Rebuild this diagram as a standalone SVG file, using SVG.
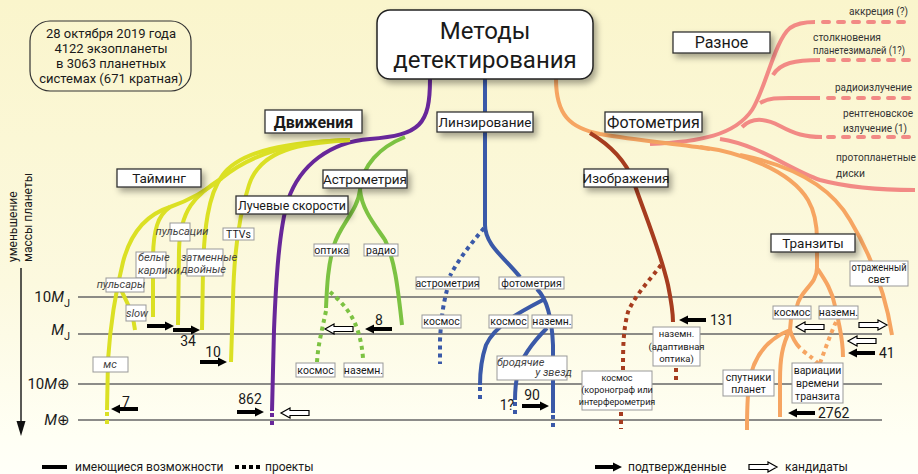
<svg xmlns="http://www.w3.org/2000/svg" xmlns:xlink="http://www.w3.org/1999/xlink" width="918" height="474" viewBox="0 0 918 474">
<defs>
<linearGradient id="bg" x1="0" y1="0" x2="0" y2="1">
<stop offset="0" stop-color="#faf5cc"/>
<stop offset="0.6" stop-color="#fcf9df"/>
<stop offset="0.92" stop-color="#fffff4"/>
<stop offset="1" stop-color="#fffff8"/>
</linearGradient>
<filter id="sh" x="-20%" y="-30%" width="150%" height="190%">
<feDropShadow dx="3" dy="4" stdDeviation="3" flood-color="#000" flood-opacity="0.35"/>
</filter>
<path id="fa" d="M0,-2 H18 V-4.5 L27,0 L18,4.5 V2 H0 Z" fill="#000"/>
<path id="ha" d="M0,-2.5 H19 V-5 L28,0 L19,5 V2.5 H0 Z" fill="#fff" stroke="#000" stroke-width="1.2"/>
</defs>
<style>
text{font-family:Roboto,"Liberation Sans",sans-serif;fill:#1a1a1a}
.c{fill:none;stroke-width:4;stroke-linecap:butt}
.dot{stroke-dasharray:4 4}
.dash{stroke-dasharray:6 9;stroke-linecap:round}
.y{stroke:#dbe024}.p{stroke:#68279a}.g{stroke:#7cc242}.b{stroke:#3a59a8}
.br{stroke:#a63c1f}.o{stroke:#f6a562}.pk{stroke:#f28a85}
.grid{stroke:#666;stroke-width:1.5}
.cat{fill:#fff;stroke:#333;stroke-width:1.3;filter:url(#sh)}
.lb{fill:#fff;stroke:#999;stroke-width:1}
.ct{font-size:13.5px;text-anchor:middle}
.st{font-size:10.5px;text-anchor:middle}
.it{font-size:11px;font-style:italic;fill:#444}
.num{font-size:14px}
.pt{font-size:10.5px;fill:#333}
</style>
<rect width="918" height="474" fill="url(#bg)"/>

<g id="axis">
<line class="grid" x1="78" y1="297" x2="882" y2="297"/>
<line class="grid" x1="78" y1="334" x2="882" y2="334"/>
<line class="grid" x1="78" y1="384" x2="882" y2="384"/>
<line class="grid" x1="78" y1="420" x2="882" y2="420"/>
<line x1="21" y1="268" x2="21" y2="424" stroke="#222" stroke-width="1.5"/>
<polygon points="16.5,421 25.5,421 21,436" fill="#111"/>
<text transform="translate(17,262) rotate(-90)" font-size="12">уменьшение</text>
<text transform="translate(32,262) rotate(-90)" font-size="12">массы планеты</text>
<text x="70" y="302" font-size="15" text-anchor="end">10<tspan font-style="italic">M</tspan><tspan font-size="11" dy="5">J</tspan></text>
<text x="70" y="335" font-size="15" text-anchor="end"><tspan font-style="italic">M</tspan><tspan font-size="11" dy="5">J</tspan></text>
<text x="70" y="389" font-size="15" text-anchor="end">10<tspan font-style="italic">M</tspan>⊕</text>
<text x="70" y="425" font-size="15" text-anchor="end"><tspan font-style="italic">M</tspan>⊕</text>
</g>

<g id="connectors">
<path class="c p" d="M430,79 C430,125 420,135 370,139 C330,142 300,165 288,200 C279,230 276,280 274,330 L272,411"/>
<path class="c p dot" d="M272,413 L272,426"/>
<path class="c y" d="M350,140 C300,143 260,150 249,185 C240,212 234,250 233,300 L231,362"/>
<path class="c y" d="M350,140 C290,142 240,150 222,176 C208,195 204,230 203,270 L202,330"/>
<path class="c y" d="M350,140 C290,141 250,155 222,178 C205,192 190,200 170,207 C145,215 130,235 123,262 C116,290 110,330 108,360 L107,410"/>
<path class="c y dot" d="M107,412 L107,426"/>
<path class="c y" d="M222,178 C195,195 180,210 179,250 L178,325"/>
<path class="c y" d="M170,207 C158,215 153,230 153,260 L153,317"/>
<path class="c y" d="M119,285 C125,300 133,310 135,330"/>
<path class="c g" d="M405,137 C380,147 362,165 360,190 C358,210 340,225 334,245 C328,265 327,285 326,308"/>
<path class="c g dot" d="M326,311 C322,330 318,345 317,362"/>
<path class="c g dot" d="M330,292 C345,305 360,320 363,358"/>
<path class="c g" d="M360,190 C362,210 375,225 385,240 C395,260 398,290 402,325"/>
<path class="c b" d="M485,79 L485,225 C485,245 505,258 520,277"/>
<path class="c b dot" d="M484,228 C470,245 458,260 450,276"/>
<path class="c b dot" d="M447,290 C443,305 441,320 440,340 L440,364"/>
<path class="c b" d="M537,289 C548,300 552,320 553,345 L553,413"/>
<path class="c b dot" d="M553,415 L553,428"/>
<path class="c b" d="M543,300 C520,312 495,325 486,345 C481,360 480,375 480,385"/>
<path class="c b dot" d="M480,387 L480,401"/>
<path class="c b" d="M547,328 C535,340 522,355 518,372 C515,385 515,395 515,400"/>
<path class="c b dot" d="M515,402 L515,416"/>
<path class="c pk" d="M650,144 C700,142 735,135 752,110 C765,90 775,40 790,28 C797,23 805,22 815,22"/>
<path class="c pk dash" d="M823,22 L910,22"/>
<path class="c pk" d="M773,75 C780,63 795,60 820,60"/>
<path class="c pk dash" d="M828,60 L910,60"/>
<path class="c pk" d="M760,103 C770,97 780,98 800,98 L820,98"/>
<path class="c pk dash" d="M828,98 L910,98"/>
<path class="c pk" d="M742,127 C752,117 765,118 780,126 C795,134 805,137 822,137"/>
<path class="c pk dash" d="M828,137 L910,137"/>
<path class="c pk" d="M720,139 C760,145 790,170 820,180 C850,188 880,190 915,190"/>
<path class="c o" d="M556,79 C556,115 570,128 600,134 C640,141 680,144 710,149"/>
<path class="c o" d="M700,147 C740,152 790,170 808,200 C815,212 817,225 817,240"/>
<path class="c o" d="M740,155 C790,165 830,185 850,220 C868,250 885,290 892,335"/>
<path class="c o" d="M817,250 L817,268 C817,285 800,290 797,306"/>
<path class="c o" d="M817,268 C825,280 832,290 835,306"/>
<path class="c o" d="M791,319 L790,330 C765,340 752,360 749,385 C747,400 747,415 747,430"/>
<path class="c o" d="M790,330 C782,345 780,360 780,380 L780,417"/>
<path class="c o" d="M790,330 C793,340 797,345 800,348"/>
<path class="c o dot" d="M803,351 C810,356 815,360 818,364"/>
<path class="c o" d="M838,319 C840,330 843,340 843,357"/>
<path class="c o dot" d="M836,322 C830,335 825,350 820,363"/>
<path class="c br" d="M590,133 C610,145 625,160 633,180 C645,215 660,250 668,285 C672,305 673,315 673,322"/>
<path class="c br dot" d="M661,265 C650,280 635,295 628,312 C623,330 623,350 623,370"/>
<path class="c br dot" d="M621,412 L621,429"/>
<path class="c br dot" d="M676,368 L676,382"/>
</g>

<g id="arrows">
<use xlink:href="#fa" transform="translate(147,326)"/>
<use xlink:href="#fa" transform="translate(173,330)"/>
<use xlink:href="#fa" transform="translate(200,362)"/>
<use xlink:href="#fa" transform="translate(138,409) scale(-1,1)"/>
<use xlink:href="#fa" transform="translate(237,412)"/>
<use xlink:href="#ha" transform="translate(309,413) scale(-1,1)"/>
<use xlink:href="#fa" transform="translate(392,329) scale(-1,1)"/>
<use xlink:href="#ha" transform="translate(353,329) scale(-1,1)"/>
<use xlink:href="#fa" transform="translate(522,406)"/>
<use xlink:href="#fa" transform="translate(706,320) scale(-1,1)"/>
<use xlink:href="#ha" transform="translate(824,327) scale(-1,1)"/>
<use xlink:href="#ha" transform="translate(859,325)"/>
<use xlink:href="#ha" transform="translate(876,341) scale(-1,1)"/>
<use xlink:href="#fa" transform="translate(875,353) scale(-1,1)"/>
<use xlink:href="#fa" transform="translate(815,413) scale(-1,1)"/>
<text class="num" x="188" y="346" text-anchor="middle">34</text>
<text class="num" x="213" y="357" text-anchor="middle">10</text>
<text class="num" x="126" y="407" text-anchor="middle">7</text>
<text class="num" x="250" y="404" text-anchor="middle">862</text>
<text class="num" x="379" y="325" text-anchor="middle">8</text>
<text class="num" x="532" y="400" text-anchor="middle">90</text>
<text class="num" x="507" y="410" text-anchor="middle">1?</text>
<text class="num" x="710" y="325">131</text>
<text class="num" x="879" y="358">41</text>
<text class="num" x="818" y="418">2762</text>
</g>

<g id="info">
<rect x="30" y="21" width="161" height="70" rx="20" fill="none" stroke="#333" stroke-width="1.2"/>
<text x="111" y="38" font-size="13" text-anchor="middle">28 октября 2019 года</text>
<text x="111" y="53" font-size="13" text-anchor="middle">4122 экзопланеты</text>
<text x="111" y="68" font-size="13" text-anchor="middle">в 3063 планетных</text>
<text x="111" y="83" font-size="13" text-anchor="middle">системах (671 кратная)</text>
</g>

<g id="title">
<rect x="377" y="10" width="216" height="69" rx="13" fill="#fff" stroke="#222" stroke-width="1.5" filter="url(#sh)"/>
<text x="485" y="39" font-size="24" text-anchor="middle">Методы</text>
<text x="485" y="68" font-size="24" text-anchor="middle">детектирования</text>
</g>

<g id="n-motion"><rect class="cat" x="265" y="110" width="97" height="23"/><text x="313.5" y="128" font-size="16" font-weight="bold" text-anchor="middle">Движения</text></g>
<g id="n-lensing"><rect class="cat" x="437" y="112" width="96" height="20"/><text class="ct" x="485" y="127">Линзирование</text></g>
<g id="n-photometry"><rect class="cat" x="605" y="112" width="97" height="20"/><text x="653.5" y="128" font-size="16" text-anchor="middle">Фотометрия</text></g>
<g id="n-misc"><rect class="cat" x="673" y="32" width="97" height="21"/><text x="721.5" y="48" font-size="16" text-anchor="middle">Разное</text></g>
<g id="n-timing"><rect class="cat" x="117" y="169" width="84" height="18"/><text class="ct" x="159" y="183">Тайминг</text></g>
<g id="n-rv"><rect class="cat" x="236" y="196" width="112" height="18"/><text class="ct" x="292" y="210" textLength="108" lengthAdjust="spacingAndGlyphs">Лучевые скорости</text></g>
<g id="n-astrometry"><rect class="cat" x="323" y="170" width="84" height="18"/><text class="ct" x="365" y="184">Астрометрия</text></g>
<g id="n-imaging"><rect class="cat" x="584" y="169" width="84" height="18"/><text class="ct" x="626" y="183">Изображения</text></g>
<g id="n-transits"><rect class="cat" x="771" y="234" width="84" height="18"/><text class="ct" x="813" y="248">Транзиты</text></g>

<g id="n-pulsations"><rect class="lb" x="170" y="223" width="20" height="18" stroke="#ccc"/><text class="it" x="182" y="235" text-anchor="middle">пульсации</text></g>
<g id="n-wd"><rect class="lb" x="136" y="252" width="30" height="26" stroke="#ccc"/><text class="it" x="138" y="261">белые</text><text class="it" x="138" y="274">карлики</text></g>
<g id="n-eb"><rect class="lb" x="187" y="249" width="36" height="27" stroke="#ccc"/><text class="it" x="181" y="261">затменные</text><text class="it" x="181" y="273">двойные</text></g>
<g id="n-pulsars"><rect class="lb" x="106" y="278" width="38" height="14" stroke="#ccc"/><text class="it" x="121" y="288" text-anchor="middle">пульсары</text></g>
<g id="n-slow"><rect class="lb" x="126" y="305" width="20" height="16" stroke="#ccc"/><text class="it" x="137" y="317" text-anchor="middle">slow</text></g>
<g id="n-ms"><rect class="lb" x="93" y="357" width="35" height="15" stroke="#ccc"/><text class="it" x="110" y="368" text-anchor="middle">мс</text></g>
<g id="n-ttvs"><rect class="lb" x="223" y="228" width="31" height="12"/><text class="st" x="238.5" y="238">TTVs</text></g>
<g id="n-optics"><rect class="lb" x="314" y="244" width="35" height="12"/><text class="st" x="331.5" y="254">оптика</text></g>
<g id="n-radio"><rect class="lb" x="364" y="244" width="34" height="12"/><text class="st" x="381" y="254">радио</text></g>
<g id="n-ast-space"><rect class="lb" x="296" y="363" width="39" height="14"/><text class="st" x="315.5" y="374">космос</text></g>
<g id="n-ast-ground"><rect class="lb" x="344" y="363" width="39" height="14"/><text class="st" x="363.5" y="374">наземн.</text></g>
<g id="n-lens-ast"><rect class="lb" x="416" y="277" width="63" height="12"/><text class="st" x="447.5" y="287">астрометрия</text></g>
<g id="n-lens-space1"><rect class="lb" x="422" y="315" width="39" height="13"/><text class="st" x="441.5" y="325">космос</text></g>
<g id="n-lens-phot"><rect class="lb" x="499" y="277" width="65" height="12"/><text class="st" x="531.5" y="287">фотометрия</text></g>
<g id="n-lens-space2"><rect class="lb" x="489" y="315" width="39" height="13"/><text class="st" x="508.5" y="325">космос</text></g>
<g id="n-lens-ground"><rect class="lb" x="532" y="315" width="40" height="13"/><text class="st" x="552" y="325">наземн.</text></g>
<g id="n-rogue"><rect class="lb" x="497" y="356" width="70" height="24" stroke="#ccc"/><text class="it" x="497" y="366">бродячие</text><text class="it" x="572" y="376" text-anchor="end">у звезд</text></g>
<g id="n-img-ground"><rect class="lb" x="653" y="327" width="47" height="39"/><text x="676.5" y="337" font-size="9.5" text-anchor="middle">наземн.</text><text x="676.5" y="350" font-size="9.5" text-anchor="middle">(адаптивная</text><text x="676.5" y="362" font-size="9.5" text-anchor="middle">оптика)</text></g>
<g id="n-img-space"><rect class="lb" x="582" y="371" width="70" height="39"/><text x="617" y="381" font-size="9" text-anchor="middle">космос</text><text x="617" y="393" font-size="9" text-anchor="middle">(коронограф или</text><text x="617" y="405" font-size="9" text-anchor="middle">интерферометрия</text></g>
<g id="n-tr-space"><rect class="lb" x="773" y="306" width="38" height="13"/><text class="st" x="792" y="316">космос</text></g>
<g id="n-tr-ground"><rect class="lb" x="819" y="306" width="39" height="13"/><text class="st" x="838.5" y="316">наземн.</text></g>
<g id="n-reflected"><rect class="lb" x="850" y="261" width="58" height="25"/><text class="st" x="879" y="271" textLength="55" lengthAdjust="spacingAndGlyphs">отраженный</text><text class="st" x="879" y="283">свет</text></g>
<g id="n-moons"><rect class="lb" x="723" y="370" width="51" height="26"/><text class="st" x="748.5" y="381">спутники</text><text class="st" x="748.5" y="393">планет</text></g>
<g id="n-ttv"><rect class="lb" x="792" y="363" width="51" height="40"/><text class="st" x="817.5" y="374">вариации</text><text class="st" x="817.5" y="387">времени</text><text class="st" x="817.5" y="400">транзита</text></g>

<g id="n-misc-items">
<text class="pt" x="849" y="15" textLength="59" lengthAdjust="spacingAndGlyphs">аккреция (?)</text>
<text class="pt" x="813" y="41" textLength="68" lengthAdjust="spacingAndGlyphs">столкновения</text>
<text class="pt" x="813" y="54" textLength="92" lengthAdjust="spacingAndGlyphs">планетезималей (1?)</text>
<text class="pt" x="835" y="91" textLength="77" lengthAdjust="spacingAndGlyphs">радиоизлучение</text>
<text class="pt" x="843" y="117" textLength="70" lengthAdjust="spacingAndGlyphs">рентгеновское</text>
<text class="pt" x="843" y="132" textLength="64" lengthAdjust="spacingAndGlyphs">излучение (1)</text>
<text class="pt" x="836" y="161" textLength="80" lengthAdjust="spacingAndGlyphs">протопланетные</text>
<text class="pt" x="836" y="177" textLength="29" lengthAdjust="spacingAndGlyphs">диски</text>
</g>

<g id="legend">
<line x1="42" y1="467" x2="67" y2="467" stroke="#000" stroke-width="4"/>
<text x="75" y="471" font-size="12">имеющиеся возможности</text>
<line x1="235" y1="467" x2="260" y2="467" stroke="#000" stroke-width="4" stroke-dasharray="4 3"/>
<text x="265" y="471" font-size="12">проекты</text>
<use xlink:href="#fa" transform="translate(595,467)"/>
<text x="628" y="471" font-size="12">подтвержденные</text>
<use xlink:href="#ha" transform="translate(749,467)"/>
<text x="785" y="471" font-size="12">кандидаты</text>
</g>
</svg>
